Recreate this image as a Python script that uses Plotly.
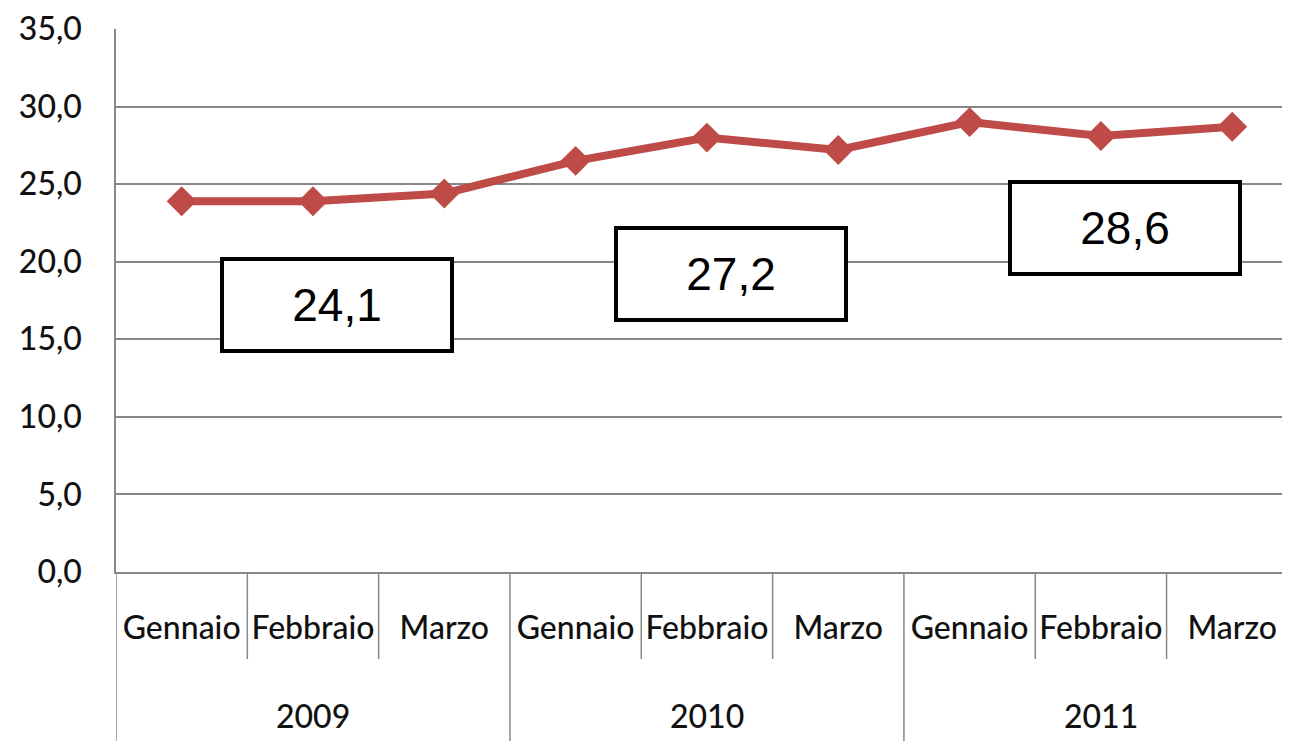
import plotly.graph_objects as go

# ---- data ----
years = ["2009", "2010", "2011"]
months = ["Gennaio", "Febbraio", "Marzo"]
values = [23.9, 23.9, 24.4, 26.5, 28.0, 27.2, 29.0, 28.1, 28.7]
year_avg_labels = ["24,1", "27,2", "28,6"]

# ---- layout helpers (positions / styles) ----
box_x_offset = 0.18          # box shift right of middle month (category units)
box_y = [17.2, 19.2, 22.15]  # box centres in data units

# page has an 8px body margin: compensate so the plot lands where the reference is
W, H = 1282, 733
ML, MR, MT, MB = 108, 0, 21, 169
plot_h = H - MT - MB

n_months = len(months)
xs = list(range(len(years) * n_months))
tick_text = [m for _ in years for m in months]

grid_col = "#878787"
text_col = "#111111"
font_fam = "Lato, 'Open Sans', sans-serif"
font_w = 500

fig = go.Figure()
fig.add_trace(go.Scatter(
    x=xs, y=values, mode="lines+markers",
    line=dict(color="#BE4B48", width=8),
    marker=dict(symbol="diamond", size=23, color="#BE4B48"),
    hoverinfo="y", showlegend=False,
))

shapes = []
sep_len = 87 / plot_h
div_len = MB / plot_h
for i in range(len(xs) + 1):
    xb = i - 0.5
    if i % n_months == 0:
        y1 = -div_len - 0.02
    else:
        y1 = -sep_len
    shapes.append(dict(type="line", xref="x", yref="paper", x0=xb, x1=xb,
                       y0=0, y1=y1, line=dict(color=grid_col, width=1.5)))

annotations = []
for k, yr in enumerate(years):
    mid = k * n_months + (n_months - 1) / 2
    annotations.append(dict(
        x=mid, xref="x", y=-143 / plot_h, yref="paper",
        text=yr, showarrow=False, yanchor="middle", xanchor="center",
        font=dict(family=font_fam, size=32, color=text_col, weight=font_w)))
    annotations.append(dict(
        x=mid + box_x_offset, xref="x", y=box_y[k], yref="y",
        text=year_avg_labels[k], showarrow=False,
        xanchor="center", yanchor="middle",
        width=226, height=88, borderpad=0,
        bordercolor="black", borderwidth=4, bgcolor="white",
        font=dict(family="Liberation Sans, Arial, sans-serif", size=46, color="black")))

fig.update_layout(
    width=W, height=H,
    margin=dict(l=ML, r=MR, t=MT, b=MB, pad=0),
    paper_bgcolor="white", plot_bgcolor="white",
    shapes=shapes, annotations=annotations,
    xaxis=dict(
        range=[-0.5, 8.44], tickmode="array", tickvals=xs, ticktext=tick_text,
        showgrid=False, zeroline=False, showline=True, linecolor=grid_col, linewidth=1.5,
        ticks="", ticklabelstandoff=27,
        tickfont=dict(family=font_fam, size=32, color=text_col, weight=font_w),
        fixedrange=True,
    ),
    yaxis=dict(
        range=[0, 35], dtick=5, tick0=0, tickformat=".1f",
        showgrid=True, gridcolor=grid_col, gridwidth=1.5,
        zeroline=False, showline=True, linecolor=grid_col, linewidth=1.5,
        ticks="", ticklabelstandoff=26,
        tickfont=dict(family=font_fam, size=32, color=text_col, weight=font_w),
        fixedrange=True,
    ),
    separators=",.",
)

fig.write_html("out.html")
